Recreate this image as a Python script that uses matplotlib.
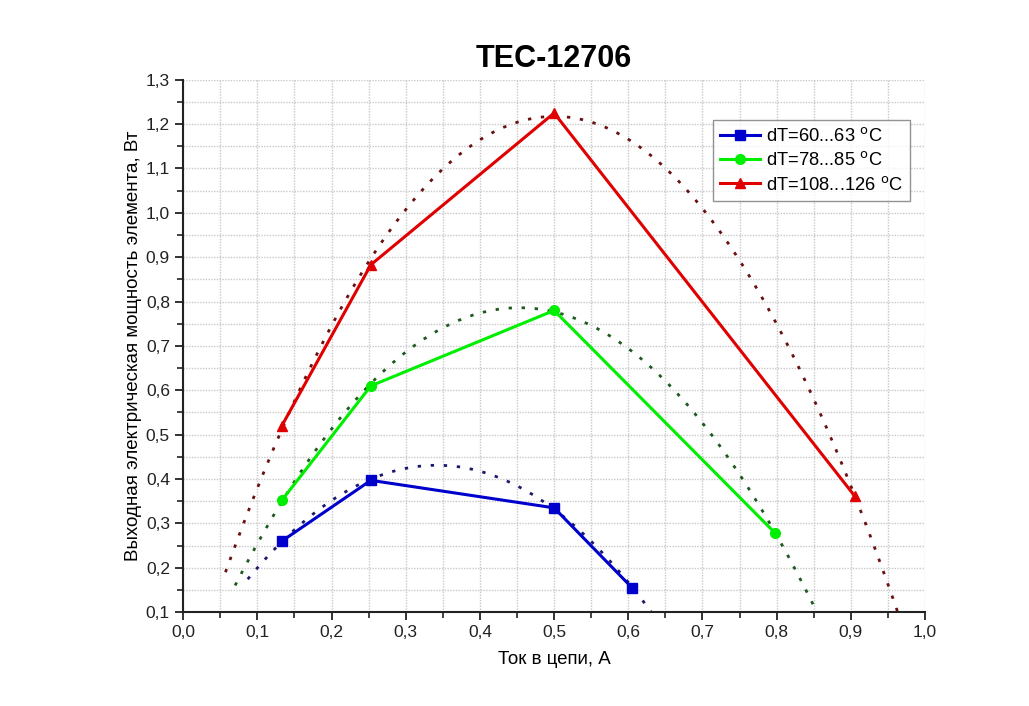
import numpy as np
import matplotlib
matplotlib.use("Agg")
import matplotlib.pyplot as plt
from matplotlib.ticker import MultipleLocator, FuncFormatter

plt.rcParams['font.family'] = ['Liberation Sans', 'DejaVu Sans']

# Data
x_blue = [0.133, 0.253, 0.500, 0.605]
y_blue = [0.260, 0.397, 0.335, 0.155]
x_green = [0.133, 0.253, 0.500, 0.798]
y_green = [0.352, 0.610, 0.780, 0.278]
x_red = [0.133, 0.253, 0.500, 0.905]
y_red = [0.520, 0.883, 1.225, 0.362]

labels = ["dT=60...63 $^{\\rm o}$C", "dT=78...85 $^{\\rm o}$C", "dT=108...126 $^{\\rm o}$C"]
fit_start = [0.087, 0.070, 0.057]

fig = plt.figure(figsize=(10.29, 7.06), dpi=100)
ax = fig.add_axes([0.178, 0.133, 0.721, 0.754])

series = [
    (x_blue, y_blue, '#0000cc', '#1a1a6e', 's', labels[0], fit_start[0]),
    (x_green, y_green, '#00ee00', '#1e5a1e', 'o', labels[1], fit_start[1]),
    (x_red, y_red, '#e00000', '#6a1010', '^', labels[2], fit_start[2]),
]

for xs, ys, c, fc, m, lab, x0 in series:
    coef = np.polyfit(xs, ys, 2)
    xf = np.linspace(x0, 1.0, 300)
    ax.plot(xf, np.polyval(coef, xf), linestyle=(0, (1.2, 3.5)), color=fc, lw=2.0, zorder=2)
    ax.plot(xs, ys, color=c, lw=2.2, marker=m, markersize=7, label=lab, zorder=3)

ax.set_xlim(0.0, 1.0)
ax.set_ylim(0.1, 1.3)
ax.xaxis.set_major_locator(MultipleLocator(0.1))
ax.xaxis.set_minor_locator(MultipleLocator(0.05))
ax.yaxis.set_major_locator(MultipleLocator(0.1))
ax.yaxis.set_minor_locator(MultipleLocator(0.05))
fmt = FuncFormatter(lambda v, p: f"{v:.1f}".replace('.', ','))
ax.xaxis.set_major_formatter(fmt)
ax.yaxis.set_major_formatter(fmt)
ax.grid(True, which='both', color='#c8c8c8', linestyle=(0, (1, 1)), lw=1.0, zorder=0)
ax.set_axisbelow(True)
ax.spines['top'].set_visible(False)
ax.spines['right'].set_visible(False)
for s in ('left', 'bottom'):
    ax.spines[s].set_linewidth(1.5)
    ax.spines[s].set_color('#222222')
ax.tick_params(which='major', direction='out', length=6, width=1.3, labelsize=12.5, colors='#222222')
ax.tick_params(which='minor', direction='out', length=4, width=1.2, colors='#222222')

ax.set_xlabel("Ток в цепи, А", fontsize=13.5, labelpad=8)
ax.set_ylabel("Выходная электрическая мощность элемента, Вт", fontsize=13.5, labelpad=3)
ax.set_title("TEC-12706", fontsize=22, fontweight='bold', pad=9)

leg = ax.legend(loc='upper right', bbox_to_anchor=(0.98, 0.925), fontsize=13.2,
                frameon=True, fancybox=False, edgecolor='#777777', handlelength=2.2,
                handletextpad=0.3, borderpad=0.4, labelspacing=0.35, borderaxespad=0.0)
leg.get_frame().set_linewidth(1.0)

fig.savefig("out.png", dpi=100)
